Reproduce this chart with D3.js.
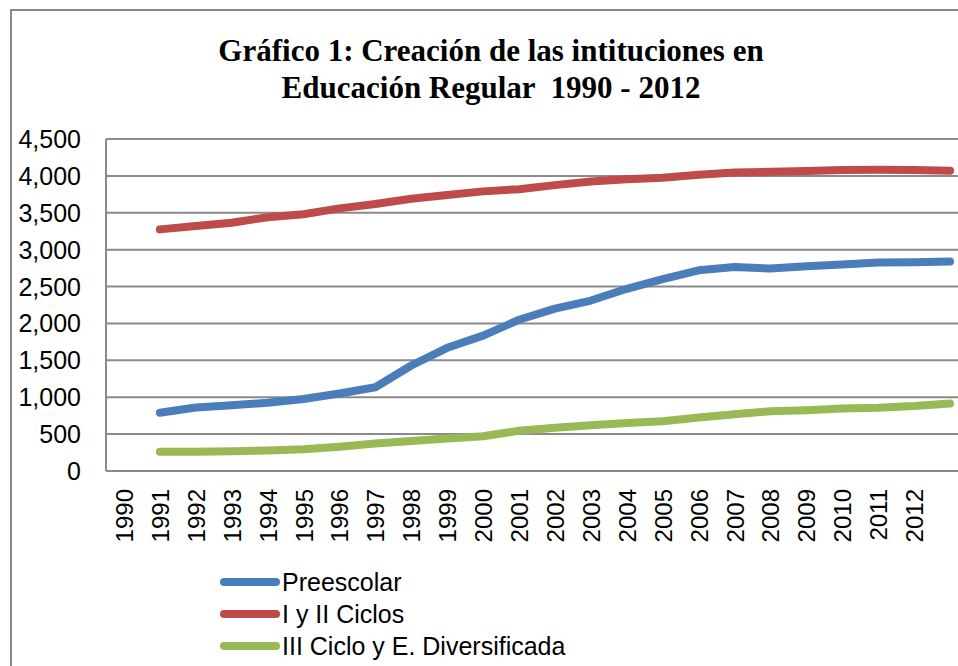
<!DOCTYPE html>
<html>
<head>
<meta charset="utf-8">
<script src="https://cdn.jsdelivr.net/npm/d3@7"></script>
<style>
  html, body { margin: 0; padding: 0; background: #fff; }
  svg { display: block; }
  text { font-family: "Liberation Sans", Arial, sans-serif; fill: #000; }
</style>
</head>
<body>
<svg id="chart" width="958" height="666"></svg>
<script>
// categories (last slot has no label, the data is shifted by one slot like the original sheet)
var years = ["1990", "1991", "1992", "1993", "1994", "1995", "1996", "1997", "1998", "1999", "2000", "2001",
             "2002", "2003", "2004", "2005", "2006", "2007", "2008", "2009", "2010", "2011", "2012", ""];
var preescolar = [null, 790, 860, 890, 925, 975, 1050, 1135, 1430, 1670, 1835, 2050, 2200, 2310, 2470,
                  2600, 2720, 2765, 2745, 2775, 2800, 2825, 2830, 2840];
var ciclos = [null, 3275, 3320, 3365, 3440, 3480, 3560, 3620, 3690, 3740, 3790, 3820, 3875, 3925, 3955,
              3975, 4015, 4045, 4056, 4066, 4080, 4084, 4080, 4070];
var diversificada = [null, 262, 262, 268, 277, 294, 330, 372, 408, 442, 472, 545, 585, 620, 650,
                     675, 725, 770, 810, 825, 848, 858, 880, 915];
var seriesNames = ["Preescolar", "I y II Ciclos", "III Ciclo y E. Diversificada"];
var seriesColors = ["#4a7ebb", "#be4b48", "#98b954"];
var yTicks = [0, 500, 1000, 1500, 2000, 2500, 3000, 3500, 4000, 4500];
var titleLines = ["Gráfico 1: Creación de las intituciones en", "Educación Regular  1990 - 2012"];

var svg = d3.select("#chart");

// outer chart frame (right and bottom edges run off the picture)
svg.append("rect")
  .attr("x", 11).attr("y", 10)
  .attr("width", 980).attr("height", 700)
  .attr("fill", "none").attr("stroke", "#878787").attr("stroke-width", 2);

// title
svg.append("g").selectAll("text")
  .data(titleLines)
  .enter().append("text")
    .attr("x", 491)
    .attr("y", function(d, i) { return 61 + i * 37; })
    .attr("text-anchor", "middle")
    .style("font-family", "'Liberation Serif', serif")
    .style("font-weight", "bold")
    .style("font-size", "31px")
    .style("white-space", "pre")
    .text(function(d) { return d; });

var plotLeft = 106, plotTop = 139, plotBottom = 471, plotRight = 968;

var x = d3.scaleBand().domain(d3.range(years.length)).range([plotLeft, plotRight]);
var y = d3.scaleLinear().domain([0, 4500]).range([plotBottom, plotTop]);

// gridlines
svg.append("g").selectAll("line")
  .data(yTicks)
  .enter().append("line")
    .attr("x1", plotLeft).attr("x2", plotRight)
    .attr("y1", function(d) { return y(d); })
    .attr("y2", function(d) { return y(d); })
    .attr("stroke", "#8a8a8a").attr("stroke-width", 2);

// left axis line
svg.append("line")
  .attr("x1", plotLeft).attr("x2", plotLeft)
  .attr("y1", plotTop).attr("y2", plotBottom)
  .attr("stroke", "#8a8a8a").attr("stroke-width", 2);

// y axis labels
var fmt = d3.format(",");
svg.append("g").selectAll("text")
  .data(yTicks)
  .enter().append("text")
    .attr("x", 81)
    .attr("y", function(d) { return y(d); })
    .attr("dy", "0.36em")
    .attr("text-anchor", "end")
    .style("font-size", "25px")
    .text(function(d) { return fmt(d); });

// x axis labels, rotated
svg.append("g").selectAll("text")
  .data(years)
  .enter().append("text")
    .attr("transform", function(d, i) {
      return "translate(" + (x(i) + x.bandwidth() / 2 + 9) + "," + 489 + ") rotate(-90)";
    })
    .attr("text-anchor", "end")
    .style("font-size", "24px")
    .text(function(d) { return d; });

// series
var allSeries = [preescolar, ciclos, diversificada];
var line = d3.line()
  .defined(function(d) { return d != null; })
  .x(function(d, i) { return x(i) + x.bandwidth() / 2; })
  .y(function(d) { return y(d); });

svg.append("g").selectAll("path")
  .data(allSeries)
  .enter().append("path")
    .attr("d", line)
    .attr("fill", "none")
    .attr("stroke", function(d, i) { return seriesColors[i]; })
    .attr("stroke-width", 8)
    .attr("stroke-linecap", "round")
    .attr("stroke-linejoin", "round");

// legend
var legend = svg.append("g").selectAll("g")
  .data(seriesNames)
  .enter().append("g")
    .attr("transform", function(d, i) { return "translate(0," + (582 + i * 32) + ")"; });
legend.append("line")
  .attr("x1", 224).attr("x2", 276)
  .attr("stroke", function(d, i) { return seriesColors[i]; })
  .attr("stroke-width", 8)
  .attr("stroke-linecap", "round");
legend.append("text")
  .attr("x", 282)
  .attr("dy", "0.36em")
  .style("font-size", "25px")
  .text(function(d) { return d; });
</script>
</body>
</html>
